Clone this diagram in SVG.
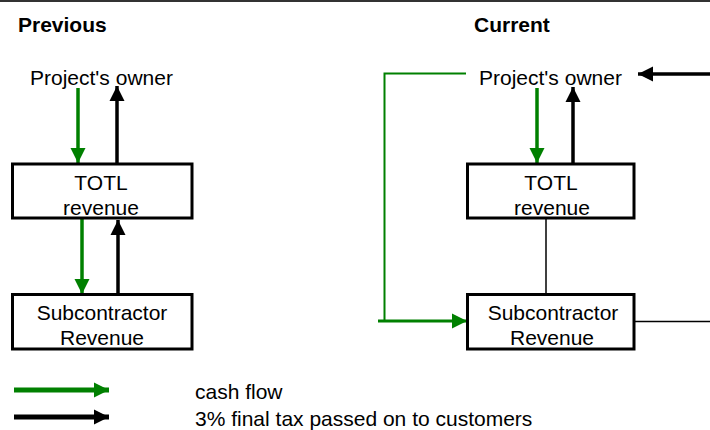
<svg xmlns="http://www.w3.org/2000/svg" width="710" height="430" viewBox="0 0 710 430">
<style>
text{font-family:"Liberation Sans",Arial,sans-serif;font-size:21px;fill:#000}
.title{font-weight:bold}
.box{fill:#fff;stroke:#000;stroke-width:3}
.g{stroke:#008000;fill:none}
.k{stroke:#000;fill:none}
</style>
<defs>
<marker id="ag" markerUnits="userSpaceOnUse" markerWidth="16" markerHeight="16" refX="15" refY="8" orient="auto"><path d="M0,0.5 L15,8 L0,15.5 z" fill="#008000"/></marker>
<marker id="ak" markerUnits="userSpaceOnUse" markerWidth="16" markerHeight="16" refX="15" refY="8" orient="auto"><path d="M0,0.5 L15,8 L0,15.5 z" fill="#000"/></marker>
</defs>
<rect x="0" y="0" width="710" height="430" fill="#fff"/>
<line x1="0" y1="1" x2="710" y2="1" stroke="#333" stroke-width="2"/>
<text class="title" x="18" y="32">Previous</text>
<text class="title" x="474" y="32">Current</text>
<g id="connectors">
<line class="g" x1="78" y1="88" x2="78" y2="163" stroke-width="3.5" marker-end="url(#ag)"/>
<line class="k" x1="117" y1="164" x2="117" y2="86" stroke-width="3.5" marker-end="url(#ak)"/>
<line class="g" x1="82" y1="219" x2="82" y2="294" stroke-width="3.5" marker-end="url(#ag)"/>
<line class="k" x1="118" y1="294" x2="118" y2="220" stroke-width="3.5" marker-end="url(#ak)"/>
<line class="g" x1="537" y1="88" x2="537" y2="163" stroke-width="3.5" marker-end="url(#ag)"/>
<line class="k" x1="573" y1="164" x2="573" y2="87" stroke-width="3.5" marker-end="url(#ak)"/>
<line class="k" x1="710" y1="74" x2="638" y2="74" stroke-width="3.5" marker-end="url(#ak)"/>
<polyline class="g" points="466,73.5 384.5,73.5 384.5,321" stroke-width="2"/>
<line class="g" x1="378" y1="321" x2="467" y2="321" stroke-width="3" marker-end="url(#ag)"/>
<line class="k" x1="546" y1="219" x2="546" y2="294" stroke-width="1.5"/>
<line class="k" x1="634" y1="321.5" x2="710" y2="321.5" stroke-width="1.5"/>
</g>
<g id="owner-prev"><text x="30" y="85">Project's owner</text></g>
<g id="totl-prev"><rect class="box" x="12.5" y="164" width="179.5" height="54"/><text x="101" y="190" text-anchor="middle">TOTL</text><text x="101" y="215" text-anchor="middle">revenue</text></g>
<g id="sub-prev"><rect class="box" x="12.5" y="294.5" width="179.5" height="54.5"/><text x="102" y="320" text-anchor="middle">Subcontractor</text><text x="102" y="345" text-anchor="middle">Revenue</text></g>
<g id="owner-cur"><text x="479" y="85">Project's owner</text></g>
<g id="totl-cur"><rect class="box" x="467.5" y="164" width="166.5" height="54"/><text x="551" y="190" text-anchor="middle">TOTL</text><text x="552" y="215" text-anchor="middle">revenue</text></g>
<g id="sub-cur"><rect class="box" x="467.5" y="294.5" width="166.5" height="54.5"/><text x="553" y="320" text-anchor="middle">Subcontractor</text><text x="552" y="345" text-anchor="middle">Revenue</text></g>
<g id="legend">
<line class="g" x1="14" y1="390" x2="109" y2="390" stroke-width="5" marker-end="url(#ag)"/>
<line class="k" x1="14" y1="417" x2="109" y2="417" stroke-width="5" marker-end="url(#ak)"/>
<text x="195" y="399">cash flow</text>
<text x="195" y="426">3% final tax passed on to customers</text>
</g>
</svg>
